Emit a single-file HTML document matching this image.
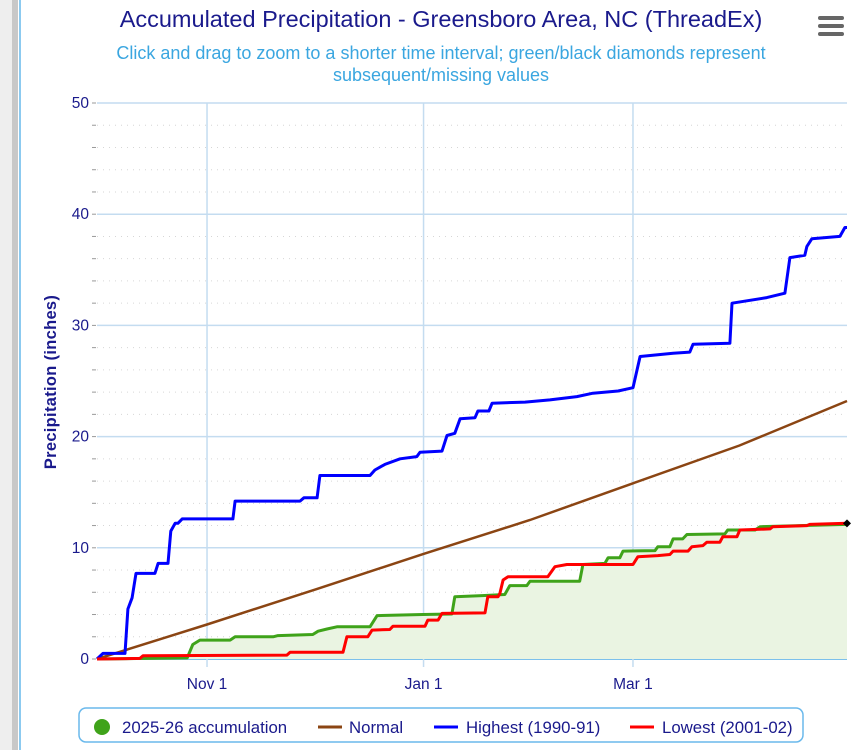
<!DOCTYPE html>
<html><head><meta charset="utf-8"><style>
html,body{margin:0;padding:0;background:#fff;}
body{width:856px;height:750px;overflow:hidden;position:relative;font-family:"Liberation Sans",sans-serif;}
</style></head><body>
<div style="position:absolute;left:0;top:0;width:12px;height:750px;background:#eeeeee"></div>
<div style="position:absolute;left:12px;top:0;width:6px;height:750px;background:#c8c8c8"></div>
<div style="position:absolute;left:19px;top:0;width:2px;height:750px;background:#8ccaf0"></div>
<svg id="chart" width="856" height="750" style="position:absolute;left:0;top:0" xmlns="http://www.w3.org/2000/svg">
<text x="441" y="27" text-anchor="middle" font-size="23.5" fill="#1a1a8c">Accumulated Precipitation - Greensboro Area, NC (ThreadEx)</text>
<text x="441" y="59" text-anchor="middle" font-size="18" fill="#3aa6e0">Click and drag to zoom to a shorter time interval; green/black diamonds represent</text>
<text x="441" y="81" text-anchor="middle" font-size="18" fill="#3aa6e0">subsequent/missing values</text>
<g fill="#666">
<rect x="818" y="16" width="26" height="4" rx="2"/><rect x="818" y="24" width="26" height="4" rx="2"/><rect x="818" y="32" width="26" height="4" rx="2"/>
</g>
<text transform="translate(56,382) rotate(-90)" text-anchor="middle" font-size="16.5" font-weight="bold" fill="#1a1a8c" letter-spacing="0.3">Precipitation (inches)</text>
<g id="grid"></g>
<g id="series"></g>
<g id="legend">
<rect x="79" y="708" width="724" height="34" rx="7" fill="#fff" stroke="#6ab9ec" stroke-width="1.5"/>
<g><circle cx="102" cy="727" r="8" fill="#3fa31a"/><text x="122" y="733" font-size="16.8" fill="#1a1a8c">2025-26 accumulation</text></g>
<g><line x1="318" y1="727" x2="342" y2="727" stroke="#8b4513" stroke-width="3"/><text x="349" y="733" font-size="16.8" fill="#1a1a8c">Normal</text></g>
<g><line x1="434" y1="727" x2="458" y2="727" stroke="#0000ff" stroke-width="3"/><text x="466" y="733" font-size="16.8" fill="#1a1a8c">Highest (1990-91)</text></g>
<g><line x1="630" y1="727" x2="654" y2="727" stroke="#ff0000" stroke-width="3"/><text x="662" y="733" font-size="16.8" fill="#1a1a8c">Lowest (2001-02)</text></g>
</g>
</svg>
<script>
const yTicks=[0,10,20,30,40,50];
const xTickDays=[31,92,151];
const xTickLabels=["Nov 1","Jan 1","Mar 1"];
const highDays=[0,1.7,7.9,8.7,9.9,11,16.3,17.2,20,20.8,22,22.8,24,38.3,38.9,57.2,58.3,62,62.8,76.9,78.3,81.1,85.4,90.1,91,97.2,98.6,100.8,102.3,106.5,107.3,110.4,111.3,120.6,127.6,135.2,139.7,146.8,151,153,162.3,167,167.9,178.3,178.9,188.7,193.8,195.2,199.4,200,201.4,209.3,210.7,211.3];
const highVals=[0,0.5,0.5,4.5,5.5,7.7,7.7,8.6,8.6,11.5,12.2,12.2,12.6,12.6,14.2,14.2,14.5,14.5,16.5,16.5,17,17.5,18,18.2,18.6,18.7,20.1,20.3,21.6,21.7,22.3,22.3,23.0,23.1,23.3,23.6,23.9,24.1,24.4,27.2,27.5,27.6,28.3,28.4,32.0,32.5,32.9,36.1,36.3,37.1,37.8,38.0,38.8,38.8];
const curDays=[0,25.4,27,29,37.5,38.9,49.6,51,60.8,62.3,64.8,67.6,76.9,78.9,91.8,100,100.8,108.5,114.9,116.3,121.1,122,136,136.9,143.1,144,147.3,148.2,157.2,158,161.4,162.3,165,166.2,176.9,177.7,185.4,186.8,211.3];
const curVals=[0,0.1,1.3,1.7,1.7,2.0,2.0,2.1,2.2,2.5,2.7,2.9,2.9,3.9,4.0,4.05,5.6,5.7,5.8,6.6,6.6,7.0,7.0,8.5,8.6,9.1,9.1,9.7,9.75,10.1,10.1,10.8,10.8,11.2,11.25,11.6,11.6,11.9,12.1];
const lowDays=[0,12.1,13,53.5,54.4,69.3,70.4,76.3,77.5,82.5,83.4,92.4,93.2,96.1,97.2,109.3,110.1,113,113.5,114.4,115.8,127,129,132.4,151,152.4,158,161.4,162.3,166.5,167.6,170.7,171.8,175.5,176.3,180.3,181.1,189.6,190.4,200,200.8,211.3];
const lowVals=[0,0.05,0.3,0.35,0.6,0.6,2.0,2.0,2.6,2.65,2.95,2.95,3.5,3.5,4.1,4.15,5.6,5.6,5.9,7.1,7.4,7.4,8.3,8.5,8.5,9.2,9.3,9.4,9.7,9.7,10.1,10.2,10.5,10.5,11.0,11.0,11.6,11.7,11.9,12.0,12.1,12.2];
const normDays=[0,31,62,92,122,151,181,211.3];
const normVals=[0,3.1,6.3,9.45,12.5,15.8,19.2,23.2];
const lastDay=211.3, lastVal=12.2;

const L=97,R=847,T=103,B=659,DMAX=211.3,VMAX=50;
const xs=d=>L+(R-L)*d/DMAX;
const ys=v=>B-(B-T)*v/VMAX;
const NS="http://www.w3.org/2000/svg";
function mk(tag,attrs,parent){const e=document.createElementNS(NS,tag);for(const k in attrs)e.setAttribute(k,attrs[k]);parent.appendChild(e);return e;}
const grid=document.getElementById('grid');
for(let v=0;v<=50;v+=2){
  if(v%10!==0){
    const l=mk('line',{x1:L,x2:R,y1:ys(v),y2:ys(v),stroke:'#d6d6d6','stroke-width':1,'stroke-dasharray':'1,5'},grid);
    
    
  }
  const t=mk('line',{x1:L-5,x2:L-1,y1:ys(v),y2:ys(v),stroke:'#999','stroke-width':1},grid);
  
  
}
yTicks.forEach(v=>{
  const l=mk('line',{x1:L,x2:R,y1:ys(v),y2:ys(v),stroke:v===0?'#7cc0ec':'#c4dcf0','stroke-width':v===0?2:1.5},grid);
  
  
  const t=mk('text',{x:L-8,y:ys(v)+5,'text-anchor':'end','font-size':15.5,fill:'#1a1a8c'},grid);
  t.textContent=v;
  
  
});
xTickDays.forEach((d,i)=>{
  const l=mk('line',{x1:xs(d),x2:xs(d),y1:T,y2:B+8,stroke:'#c4dcf0','stroke-width':1.5},grid);
  
  
  const t=mk('text',{x:xs(d),y:B+30,'text-anchor':'middle','font-size':15.5,fill:'#1a1a8c'},grid);
  t.textContent=xTickLabels[i];
  
  
});
const ser=document.getElementById('series');
function pts(ds,vs){return ds.map((d,i)=>xs(d).toFixed(1)+','+ys(vs[i]).toFixed(1)).join(' ');}
const area=mk('polygon',{points:xs(0)+','+ys(0)+' '+pts(curDays,curVals)+' '+xs(curDays[curDays.length-1])+','+ys(0),fill:'#eaf4e2',stroke:'none'},ser);


const nl=mk('polyline',{points:pts(normDays,normVals),fill:'none',stroke:'#8b4513','stroke-width':2.5},ser);


const hl=mk('polyline',{points:pts(highDays,highVals),fill:'none',stroke:'#0000ff','stroke-width':3,'stroke-linejoin':'round'},ser);


const cl=mk('polyline',{points:pts(curDays,curVals),fill:'none',stroke:'#3fa31a','stroke-width':3,'stroke-linejoin':'round'},ser);


const ll=mk('polyline',{points:pts(lowDays,lowVals),fill:'none',stroke:'#ff0000','stroke-width':3,'stroke-linejoin':'round'},ser);


const cx=xs(lastDay),cy=ys(lastVal);
const dm=mk('polygon',{points:`${cx},${cy-4} ${cx+4},${cy} ${cx},${cy+4} ${cx-4},${cy}`,fill:'#000'},ser);


</script>
</body></html>
